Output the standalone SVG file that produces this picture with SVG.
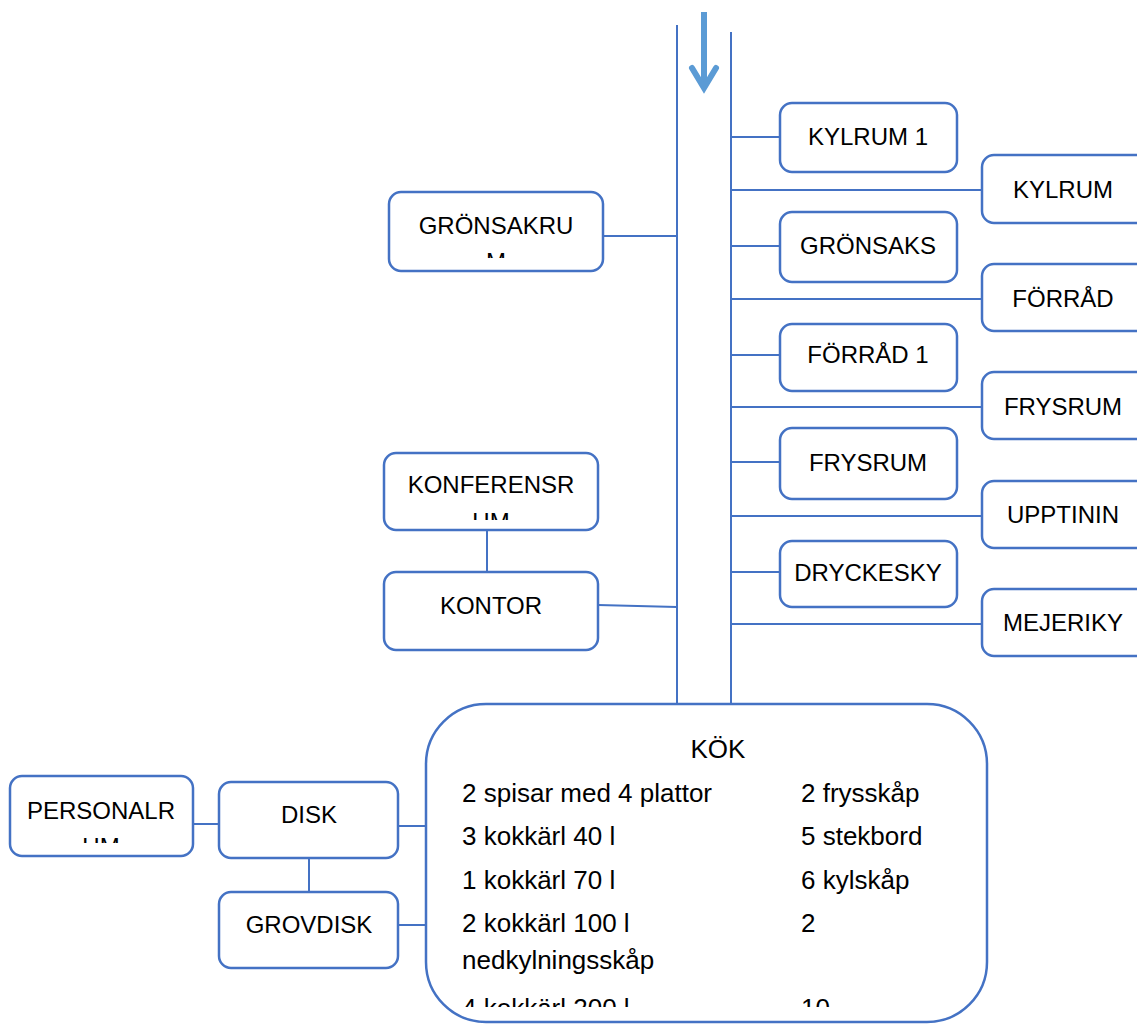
<svg xmlns="http://www.w3.org/2000/svg" width="1137" height="1024" viewBox="0 0 1137 1024">
<style>
.box{fill:#fff;stroke:#4472C4;stroke-width:2.5}
.ln{stroke:#4472C4;stroke-width:2;fill:none}
.t{font-family:"Liberation Sans",Arial,sans-serif;font-size:24px;fill:#000;text-anchor:middle}
.k{font-family:"Liberation Sans",Arial,sans-serif;font-size:26px;fill:#000}
</style>
<defs>
<clipPath id="cG"><rect x="389" y="192" width="214" height="66"/></clipPath>
<clipPath id="cK"><rect x="384" y="453" width="214" height="67"/></clipPath>
<clipPath id="cP"><rect x="10" y="776" width="183" height="67"/></clipPath>
<clipPath id="cGS"><rect x="780" y="212" width="177" height="57"/></clipPath>
<clipPath id="cF2"><rect x="780" y="428" width="177" height="58"/></clipPath>
<clipPath id="cKOK"><rect x="426" y="704" width="561" height="303"/></clipPath>
</defs>
<g id="connectors">
<line class="ln" x1="677" y1="25" x2="677" y2="705"/>
<line class="ln" x1="731" y1="32" x2="731" y2="705"/>
<line x1="704" y1="12" x2="704" y2="84" stroke="#5B9BD5" stroke-width="6"/>
<polyline points="692,68 704,88 716,68" fill="none" stroke="#5B9BD5" stroke-width="6" stroke-linecap="round" stroke-linejoin="miter"/>
<line class="ln" x1="731" y1="137" x2="780" y2="137"/>
<line class="ln" x1="731" y1="190" x2="982" y2="190"/>
<line class="ln" x1="731" y1="246" x2="780" y2="246"/>
<line class="ln" x1="731" y1="299" x2="982" y2="299"/>
<line class="ln" x1="731" y1="355" x2="780" y2="355"/>
<line class="ln" x1="731" y1="407" x2="982" y2="407"/>
<line class="ln" x1="731" y1="462" x2="780" y2="462"/>
<line class="ln" x1="731" y1="516" x2="982" y2="516"/>
<line class="ln" x1="731" y1="572" x2="780" y2="572"/>
<line class="ln" x1="731" y1="624" x2="982" y2="624"/>
<line class="ln" x1="603" y1="236" x2="677" y2="236"/>
<line class="ln" x1="598" y1="605" x2="677" y2="607"/>
<line class="ln" x1="487" y1="530" x2="487" y2="572"/>
<line class="ln" x1="398" y1="826" x2="426" y2="826"/>
<line class="ln" x1="193" y1="824" x2="219" y2="824"/>
<line class="ln" x1="398" y1="925" x2="426" y2="925"/>
<line class="ln" x1="309" y1="858" x2="309" y2="892"/>
</g>
<g id="kylrum1"><rect class="box" x="780" y="103" width="177" height="69" rx="12"/><text class="t" x="868" y="145">KYLRUM 1</text></g>
<g id="gronsaks"><rect class="box" x="780" y="212" width="177" height="70" rx="12"/><g clip-path="url(#cGS)"><text class="t" x="868" y="254">GRÖNSAKS</text></g></g>
<g id="frysrum2"><rect class="box" x="780" y="428" width="177" height="71" rx="12"/><g clip-path="url(#cF2)"><text class="t" x="868" y="471">FRYSRUM</text><text class="t" x="868" y="503">2</text></g></g>
<g id="forrad1"><rect class="box" x="780" y="324" width="177" height="67" rx="12"/><text class="t" x="868" y="363">FÖRRÅD 1</text></g>
<g id="dryckesky"><rect class="box" x="780" y="541" width="177" height="66" rx="12"/><text class="t" x="868" y="581">DRYCKESKY</text></g>
<g id="kylrum"><rect class="box" x="982" y="155" width="178" height="68" rx="12"/><text class="t" x="1063" y="198">KYLRUM</text></g>
<g id="forrad"><rect class="box" x="982" y="264" width="178" height="67" rx="12"/><text class="t" x="1063" y="307">FÖRRÅD</text></g>
<g id="frysrum"><rect class="box" x="982" y="372" width="178" height="67" rx="12"/><text class="t" x="1063" y="415">FRYSRUM</text></g>
<g id="upptinin"><rect class="box" x="982" y="481" width="178" height="67" rx="12"/><text class="t" x="1063" y="523">UPPTININ</text></g>
<g id="mejeriky"><rect class="box" x="982" y="589" width="178" height="67" rx="12"/><text class="t" x="1063" y="631">MEJERIKY</text></g>
<g id="gronsakrum"><rect class="box" x="389" y="192" width="214" height="79" rx="12"/><g clip-path="url(#cG)"><text class="t" x="496" y="234">GRÖNSAKRU</text><text class="t" x="496" y="270">M</text></g></g>
<g id="konferensrum"><rect class="box" x="384" y="453" width="214" height="77" rx="12"/><g clip-path="url(#cK)"><text class="t" x="491" y="493">KONFERENSR</text><text class="t" x="491" y="530">UM</text></g></g>
<g id="kontor"><rect class="box" x="384" y="572" width="214" height="78" rx="12"/><text class="t" x="491" y="614">KONTOR</text></g>
<g id="personalrum"><rect class="box" x="10" y="776" width="183" height="80" rx="12"/><g clip-path="url(#cP)"><text class="t" x="101" y="819">PERSONALR</text><text class="t" x="101" y="855">UM</text></g></g>
<g id="disk"><rect class="box" x="219" y="782" width="179" height="76" rx="12"/><text class="t" x="309" y="823">DISK</text></g>
<g id="grovdisk"><rect class="box" x="219" y="892" width="179" height="76" rx="12"/><text class="t" x="309" y="933">GROVDISK</text></g>
<g id="kok"><rect class="box" x="426" y="704" width="561" height="318" rx="60"/>
<g clip-path="url(#cKOK)">
<text class="k" x="718" y="758" text-anchor="middle">KÖK</text>
<text class="k" x="462" y="802">2 spisar med 4 plattor</text><text class="k" x="801" y="802">2 frysskåp</text>
<text class="k" x="462" y="845">3 kokkärl 40 l</text><text class="k" x="801" y="845">5 stekbord</text>
<text class="k" x="462" y="889">1 kokkärl 70 l</text><text class="k" x="801" y="889">6 kylskåp</text>
<text class="k" x="462" y="932">2 kokkärl 100 l</text><text class="k" x="801" y="932">2</text>
<text class="k" x="462" y="969">nedkylningsskåp</text>
<text class="k" x="462" y="1017">4 kokkärl 200 l</text><text class="k" x="801" y="1017">10</text>
</g></g>
</svg>
